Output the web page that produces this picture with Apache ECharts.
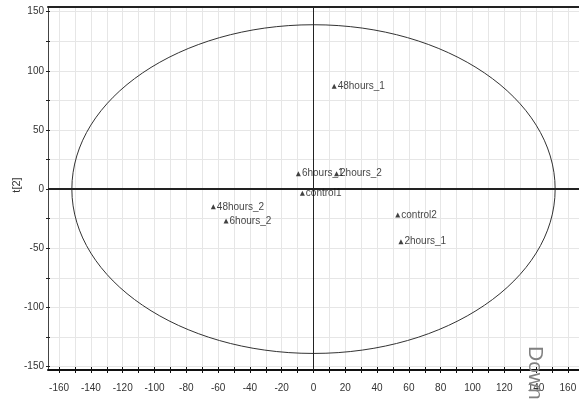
<!DOCTYPE html>
<html>
<head>
<meta charset="utf-8">
<script src="https://cdn.jsdelivr.net/npm/echarts@6/dist/echarts.min.js"></script>
<style>
html,body{margin:0;padding:0;background:#fff;}
#chart{width:579px;height:402px;}
</style>
</head>
<body>
<div id="chart"></div>
<script>
// ---- data ----
var sampleLabels = ['48hours_1', '6hours_1', '2hours_2', 'control1', '48hours_2', '6hours_2', 'control2', '2hours_1'];
var t1Values = [13, -9.5, 14.5, -7, -63, -55, 53, 55];
var t2Values = [87, 13, 13, -3.5, -15, -27, -22, -44.5];
var ellipseCenter = [0, 0];
var ellipseRadii = [152, 139];
var xRange = [-167, 167];
var yRange = [-153, 154];
var xTickValues = [-160, -150, -140, -130, -120, -110, -100, -90, -80, -70, -60, -50, -40, -30, -20, -10, 0, 10, 20, 30, 40, 50, 60, 70, 80, 90, 100, 110, 120, 130, 140, 150, 160];
var xLabelValues = [-160, -140, -120, -100, -80, -60, -40, -20, 0, 20, 40, 60, 80, 100, 120, 140, 160];
var yTickValues = [-150, -125, -100, -75, -50, -25, 0, 25, 50, 75, 100, 125, 150];
var yLabelValues = [-150, -100, -50, 0, 50, 100, 150];
var zeroLines = [0, 0];
var yAxisTitle = 't[2]';
var watermarkText = 'Down';

var FONT = '"Liberation Sans", Arial, sans-serif';

var points = sampleLabels.map(function (n, i) { return { name: n, value: [t1Values[i], t2Values[i]] }; });

var chart = echarts.init(document.getElementById('chart'), null, { renderer: 'canvas' });
var baseX = { type: 'value', min: xRange[0], max: xRange[1] };
var baseY = { type: 'value', min: yRange[0], max: yRange[1] };

chart.setOption({
  animation: false,
  backgroundColor: '#fff',
  grid: { left: 48, right: 0, top: 7, bottom: 32, containLabel: false, outerBoundsMode: 'none' },
  xAxis: [
    Object.assign({}, baseX, {
      position: 'bottom',
      axisLine: { show: true, onZero: false, lineStyle: { color: '#111', width: 2 } },
      axisTick: { show: true, inside: false, length: 3, customValues: xTickValues, lineStyle: { color: '#111' } },
      axisLabel: { show: true, customValues: xLabelValues, color: '#333', fontSize: 10, fontFamily: FONT, margin: 13 },
      splitLine: { show: true, lineStyle: { color: '#e6e6e6', width: 1 } }
    }),
    Object.assign({}, baseX, {
      position: 'bottom',
      axisLine: { show: false, onZero: false },
      axisTick: { show: true, inside: true, length: 3, customValues: xTickValues, lineStyle: { color: '#111' } },
      axisLabel: { show: false },
      splitLine: { show: false }
    }),
    Object.assign({}, baseX, {
      position: 'top',
      axisLine: { show: true, onZero: false, lineStyle: { color: '#222', width: 2 } },
      axisTick: { show: false },
      axisLabel: { show: false },
      splitLine: { show: false }
    })
  ],
  yAxis: [
    Object.assign({}, baseY, {
      position: 'left',
      axisLine: { show: true, onZero: false, lineStyle: { color: '#444', width: 1 } },
      axisTick: { show: true, inside: false, length: 2, customValues: yTickValues, lineStyle: { color: '#222' } },
      axisLabel: { show: true, customValues: yLabelValues, color: '#333', fontSize: 10, fontFamily: FONT, margin: 4 },
      splitLine: { show: true, lineStyle: { color: '#e6e6e6', width: 1 } }
    }),
    Object.assign({}, baseY, {
      position: 'left',
      axisLine: { show: false, onZero: false },
      axisTick: { show: true, inside: true, length: 2, customValues: yTickValues, lineStyle: { color: '#222' } },
      axisLabel: { show: false },
      splitLine: { show: false }
    })
  ],
  series: [
    {
      type: 'custom',
      xAxisIndex: 0, yAxisIndex: 0,
      silent: true,
      clip: true,
      z: 3,
      data: [[ellipseCenter[0], ellipseCenter[1], ellipseRadii[0], ellipseRadii[1]]],
      renderItem: function (params, api) {
        var c = api.coord([api.value(0), api.value(1)]);
        var s = api.size([api.value(2), api.value(3)]);
        return {
          type: 'ellipse',
          shape: { cx: c[0], cy: c[1], rx: s[0], ry: s[1] },
          style: { fill: null, stroke: '#333', lineWidth: 1 }
        };
      }
    },
    {
      type: 'scatter',
      xAxisIndex: 0, yAxisIndex: 0,
      symbol: 'triangle',
      symbolSize: 5,
      itemStyle: { color: '#111' },
      z: 5,
      label: {
        show: true, position: 'right', distance: 1,
        formatter: '{b}', color: '#111', fontSize: 10, fontFamily: FONT
      },
      data: points,
      markLine: {
        silent: true,
        symbol: ['none', 'none'],
        label: { show: false },
        animation: false,
        data: [
          { xAxis: zeroLines[0], lineStyle: { color: '#222', width: 1, type: 'solid' } },
          { yAxis: zeroLines[1], lineStyle: { color: '#222', width: 2, type: 'solid' } }
        ]
      }
    }
  ],
  graphic: [
    {
      type: 'text',
      x: 17, y: 185,
      rotation: Math.PI / 2,
      z: 100,
      style: { text: yAxisTitle, font: '11px "Liberation Sans", Arial, sans-serif', fill: '#333', align: 'center', verticalAlign: 'middle' }
    },
    {
      type: 'text',
      x: 545, y: 346,
      rotation: -Math.PI / 2,
      z: 100,
      style: { text: watermarkText, font: '21px "Liberation Sans", Arial, sans-serif', fill: '#808080' }
    }
  ]
});
</script>
</body>
</html>
